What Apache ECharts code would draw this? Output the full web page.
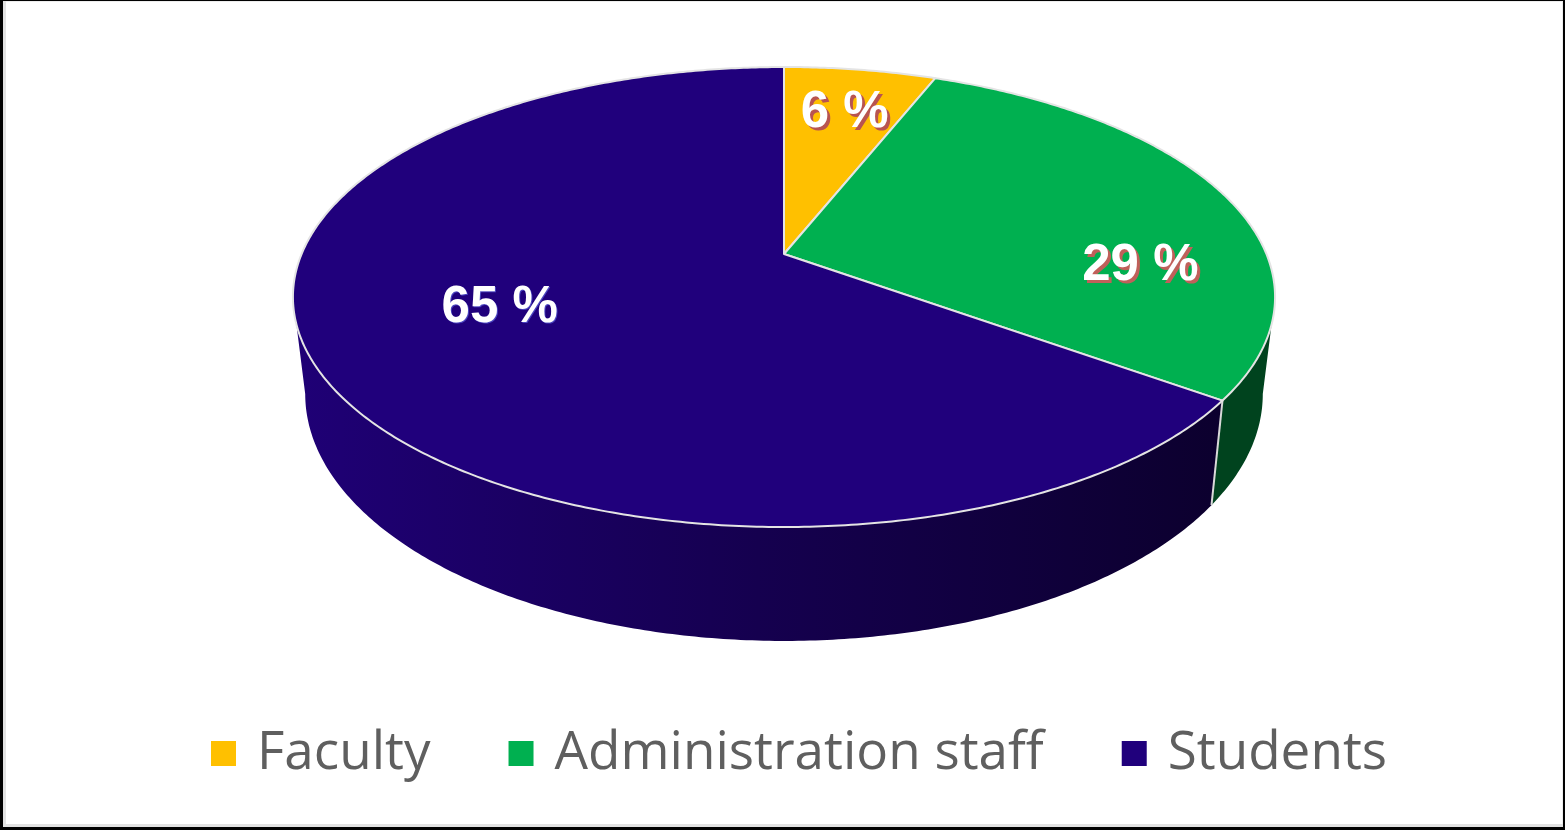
<!DOCTYPE html>
<html><head><meta charset="utf-8">
<style>
html,body{margin:0;padding:0;background:#fff;overflow:hidden}
#frame{position:absolute;left:0;top:0;width:1565px;height:830px;box-sizing:border-box;border:solid #000;border-width:1px 2px 3px 3px;box-shadow:inset 3px 0 0 #e2e2e2,inset 0 -3px 0 #e2e2e2,inset -1px 0 0 #ededed,inset 0 1px 0 #ededed}
#main{position:absolute;left:0;top:0;width:1565px;height:830px}
</style>
<script src="https://cdn.jsdelivr.net/npm/echarts@6/dist/echarts.min.js"></script>
</head><body>
<div id="main"></div><div id="frame"></div>
<script>
var categories = ['Faculty', 'Administration staff', 'Students'];
var values = [6, 29, 65];
var labels = ['6 %', '29 %', '65 %'];

// look of the tilted disc
var topColors = ['#ffc000', '#00b050', '#20007c'];
var sideColors = ['#7f6000', '#00431e', null];
var labelShadow = ['#b85450', '#c0605a', '#4a44c0'];
var labelShadowOffset = [3, 3, 1];
var labelNudge = [[1, 3], [22, 57], [60, -27]];
var CX = 784, APEX = 254, TILT_A = -174.47, TILT_C = 0.187, HALF = 482.4;
var DEPTH_X = 0.975, DEPTH_Y = 1.0738, DEPTH_B = 75;

var total = values.reduce(function (a, b) { return a + b; }, 0);
function project(t, r) {
  var u = r * Math.sin(t), v = r * Math.cos(t), w = 1 + TILT_C * v;
  return [CX + HALF * u / w, (TILT_A * v + APEX) / w];
}
function lower(p) { return [CX + (p[0] - CX) * DEPTH_X, p[1] * DEPTH_Y + DEPTH_B]; }
function arc(a, b) {
  var out = [], n = Math.max(2, Math.ceil(Math.abs(b - a) / 0.01));
  for (var i = 0; i <= n; i++) out.push(project(a + (b - a) * i / n, 1));
  return out;
}
var VIS_A = 100.8 * Math.PI / 180, VIS_B = 259.2 * Math.PI / 180;

function renderSlice(index) {
  return function () {
    var before = 0, i;
    for (i = 0; i < index; i++) before += values[i];
    var a = before / total * 2 * Math.PI;
    var b = (before + values[index]) / total * 2 * Math.PI;
    var kids = [];
    var s = Math.max(a, VIS_A), e = Math.min(b, VIS_B);
    if (e > s) {
      var up = arc(s, e), down = up.map(lower).reverse();
      var fill = sideColors[index] || new echarts.graphic.LinearGradient(0, 0, 1, 0, [
        { offset: 0, color: '#1f0076' }, { offset: 0.5, color: '#15004f' }, { offset: 1, color: '#0c002e' }
      ]);
      kids.push({ type: 'polygon', z2: 1, shape: { points: up.concat(down) }, style: { fill: fill } });
      if (b > VIS_A && b < VIS_B) {
        kids.push({ type: 'line', z2: 2, shape: { x1: up[up.length - 1][0], y1: up[up.length - 1][1], x2: lower(up[up.length - 1])[0], y2: lower(up[up.length - 1])[1] }, style: { stroke: '#d9d9d9', lineWidth: 2 } });
      }
    }
    var top = [[CX, APEX]].concat(arc(a, b));
    kids.push({ type: 'polygon', z2: 5, shape: { points: top }, style: { fill: topColors[index], stroke: '#e4e4e4', lineWidth: 2, lineJoin: 'round' } });
    var mid = project((a + b) / 2, 0.75);
    var common = { text: labels[index], font: 'bold 51px "Liberation Sans", Arial, sans-serif', align: 'center', verticalAlign: 'middle' };
    var x = mid[0] + labelNudge[index][0], y = mid[1] + labelNudge[index][1], d = labelShadowOffset[index];
    kids.push({ type: 'text', z2: 9, x: x + d, y: y + d, style: Object.assign({ fill: labelShadow[index] }, common) });
    kids.push({ type: 'text', z2: 10, x: x, y: y, style: Object.assign({ fill: '#fff' }, common) });
    return { type: 'group', children: kids };
  };
}

var chart = echarts.init(document.getElementById('main'), null, { renderer: 'canvas' });
chart.setOption({
  animation: false,
  backgroundColor: '#fff',
  legend: {
    data: categories,
    left: 206, top: 722,
    icon: 'rect', itemWidth: 25, itemHeight: 25, itemGap: 78,
    selectedMode: false,
    textStyle: { color: '#5f5f5f', fontSize: 53, fontFamily: '"Open Sans", sans-serif', padding: [0, 0, 0, 16] }
  },
  series: categories.map(function (name, i) {
    return {
      type: 'custom', name: name, coordinateSystem: 'none',
      itemStyle: { color: topColors[i] },
      data: [values[i]],
      renderItem: renderSlice(i),
      silent: true
    };
  })
});
</script>
</body></html>
